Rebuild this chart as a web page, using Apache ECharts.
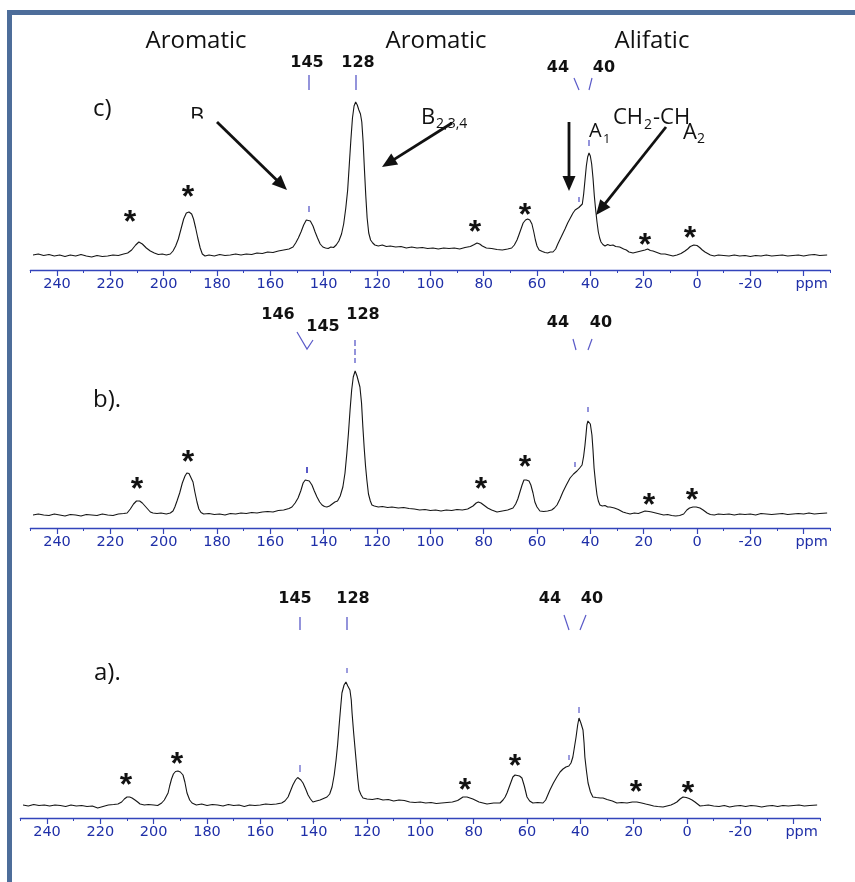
<!DOCTYPE html>
<html><head><meta charset="utf-8">
<script src="https://cdn.jsdelivr.net/npm/echarts@6/dist/echarts.min.js"></script>
<style>html,body{margin:0;padding:0;background:#fff}#c{width:855px;height:882px}</style>
</head><body><div id="c"></div>
<script>
// ---- data: [ppm, intensity (a.u.)] ----
const tickValues = [240,220,200,180,160,140,120,100,80,60,40,20,0,-20,-40];
const specC = [[249,15],[247,16],[245,14.5],[243,15.5],[241,14],[239,15],[237,13.5],[235,15],[233,14],[231,15.5],[229,14],[227,13],[225,14.5],[223,13.5],[221,14],[219,15],[217,14.5],[215,16],[213.5,17],[212,20],[210.5,25],[209.3,28],[208,26],[206.5,22],[205,19],[203.5,17],[202,15.5],[200.5,16],[199,15],[197.5,16],[196.5,19],[195.5,24],[194.5,31],[193.5,41],[192.5,51],[191.5,57],[190.5,58],[189.5,56],[188.8,51],[188,42],[187.2,32],[186.3,22],[185.5,16],[184.5,14],[183,15],[181,14],[179,15.5],[177,14.5],[175,15],[173,16],[171,15],[169,16],[167,15.5],[165,17],[163,16.5],[161,18],[159,17.5],[157,19],[155,20],[153,21],[151.5,23],[150.5,27],[149.5,32],[148.5,38],[147.5,45],[146.5,50],[145.8,51],[145,49],[144,44],[143.2,38],[142.3,32],[141.3,26],[140.3,23],[139.3,22],[138.3,21.5],[137.3,23],[136.3,22.5],[135.3,25],[134.3,29],[133.3,36],[132.5,46],[131.7,62],[131,80],[130.4,105],[129.8,130],[129.2,152],[128.6,164],[128,168],[127.4,165],[126.8,160],[126.2,156],[125.7,148],[125.2,128],[124.7,100],[124.2,74],[123.7,52],[123.1,37],[122.4,30],[121.6,27],[120.8,25],[119.5,24],[118,25],[116.5,23.5],[115,24],[113,23],[111,23.5],[109,22],[107,23],[105,22],[103,22.5],[101,21.5],[99,22],[97,21],[95,22],[93,21.5],[91,22],[89,21],[87,22.5],[85,23.5],[83.5,25.5],[82.5,27],[81.5,26],[80.5,24],[79,22],[77,21.5],[75,20.5],[73,20],[71,21],[69.5,22],[68.5,25],[67.5,30],[66.8,35],[66,41],[65.2,47],[64.3,50],[63.5,51],[62.7,50],[61.9,46],[61.2,38],[60.6,30],[60,24],[59.2,20],[58,18.5],[57,17.5],[56,17],[55,18],[54,18],[53,21],[52.2,26],[51.3,31],[50.4,36],[49.5,41],[48.5,47],[47.5,52],[46.5,57],[45.7,60],[45,61],[44.3,62.5],[43.6,64],[43,66],[42.5,76],[42,90],[41.5,104],[41,113],[40.5,117],[40,114],[39.5,106],[39,92],[38.5,74],[38,60],[37.5,48],[37,38],[36.5,32],[36,28],[35.3,25.5],[34.5,24],[33.5,25.5],[32.6,24.5],[31.5,25],[30.5,23.5],[29,23],[27.5,21],[26.5,20],[25.5,18],[24,17],[22.5,18],[21,19],[19.5,20],[18.5,21],[17.5,19.5],[16.5,19],[15,17.5],[13.5,16],[12,16],[10.5,15],[9,14],[7.5,15],[6,16.5],[4.5,19],[3.5,21],[2.5,23.5],[1.2,25],[0,24.5],[-1,22.5],[-2,20],[-3,18],[-4,16.5],[-5,15],[-6.5,14],[-8,15],[-10,14.5],[-12,14],[-14,15],[-16,14],[-18,14.5],[-20,13.5],[-22,14.5],[-24,14],[-26,15],[-28,14],[-30,14.5],[-32,15],[-34,14],[-36,14.5],[-38,15],[-40,14],[-42,15],[-44,15.5],[-46,14.5],[-48.8,15]];
const specB = [[249,13],[247,14],[245,13],[243,12.5],[241,14],[239,13],[237,12],[235,13.5],[233,13],[231,12],[229,13.5],[227,13],[225,12.5],[223,14],[221,13],[219,12.5],[217,14],[215,14.5],[213.7,15],[212.5,19],[211.3,24],[210.2,27],[209,27],[208,25],[207,22],[206,19],[205,16],[204,15],[202.5,14.5],[201,15],[199,14],[197.5,15],[196.5,17],[195.8,21],[195,27],[194,35],[193,45],[192,52],[191.3,55],[190.5,54.5],[189.8,53],[189,46],[188.3,36],[187.5,26],[186.8,19],[186,15.5],[185,14],[183,14.5],[181,13.5],[179,14],[177,13],[175,14.5],[173,14],[171,15],[169,14.5],[167,15.5],[165,15],[163,16],[161,16.5],[159,16],[157,17.5],[155,18],[153,19.5],[151.9,21],[150.7,25],[149.6,30],[148.6,37],[147.7,45],[146.9,48],[146.2,49],[145.4,47],[144.4,43],[143.5,37],[142.5,31],[141.5,26],[140.6,23],[139.7,21.5],[138.8,21],[137.8,22],[136.8,24],[135.8,26],[134.8,27],[133.8,32],[132.8,41],[132,55],[131.3,75],[130.7,95],[130.1,118],[129.5,138],[128.9,151],[128.2,157],[127.5,152],[126.9,146],[126.4,141],[125.8,125],[125.3,101],[124.8,80],[124.3,62],[123.8,48],[123.2,34],[122.5,27],[121.9,23],[121,22],[119.5,21],[118,21.5],[116,20.5],[114.4,21],[112,20],[110,20.5],[108,19.5],[106,19],[104,18],[102,18.5],[100,17.5],[98,18],[96,17],[94,18],[92,17.5],[90,18.5],[88,18],[86,19],[84,22],[82.8,25],[82,26],[81,25],[80,23],[78.5,20],[77,18],[75,16],[73,17],[71,18],[69,20],[68,24],[67.2,29],[66.4,36],[65.6,43],[64.9,48],[64,48],[63,47],[62.3,43],[61.5,35],[60.8,26],[60,21],[58.9,17],[57.5,16.5],[56,17],[54.5,18],[53.5,20],[52.5,23],[51.4,29],[50.3,36],[49,43],[47.6,50],[46.3,54],[45,57],[44,60],[43.1,63],[42.5,72],[42,83],[41.6,94],[41.3,103],[40.9,107],[40.5,109],[40,104],[39.4,93],[39,78],[38.6,60],[38,44],[37.5,33],[37,27],[36.4,23],[35.5,22],[34.5,22.5],[33.5,21],[32.6,21],[31,20],[29.5,18.5],[27.8,16],[26.5,15],[25.1,14],[23.5,15],[22,14.5],[20.5,16],[19.5,17],[18.8,17],[18,16.5],[17,16],[15.5,15],[14,14],[12.5,13],[11,13.5],[9.5,12.5],[8,12],[6.5,12.5],[5,14],[3.8,18],[2.8,20],[1.5,21],[0.3,21],[-1.1,20],[-2.3,18],[-3.8,15],[-5,13.5],[-6.5,13],[-8,14],[-10,13.5],[-12,14],[-14,13],[-16,14],[-18,13.5],[-20,14],[-22,13],[-24,14.5],[-26,14],[-28,13.5],[-30,14],[-32,14.5],[-34,13.5],[-36,14],[-38,14.5],[-40,14],[-42,15],[-44,14],[-46,14.5],[-48.8,15]];
const specA = [[249,13],[247,12],[245,13.5],[243,12.5],[241,13],[239,12],[237,13],[235,12.5],[233,11.5],[231,13],[229,12],[227,12.5],[225,11.5],[223,12],[221,10],[219,11.5],[217,13],[215,13.5],[213.4,14],[212,16],[211,19],[210,21],[209,21],[208.1,20],[207,18],[206,16],[205.1,14],[203.5,13],[202,13.5],[200,13],[198.5,12.5],[197,15],[196,18],[195.2,22],[194.6,25],[194,32],[193.3,39],[192.6,44],[191.8,46.5],[190.9,47],[190,46],[189,43],[188.3,36],[187.5,25],[186.5,18],[185.6,15],[184,13],[182,14],[180,12.5],[178,13.5],[176,13],[174,12],[172,13.5],[170,12.5],[168,13],[166,11.5],[164,13],[162,12.5],[160,13],[158,14],[156,13.5],[154,14],[152,15],[150.8,17],[149.6,21],[148.7,27],[147.8,33],[146.8,38],[146,40.5],[145.5,41],[144.8,38],[144,35],[143,29],[142.1,23],[141.2,19],[140.3,16],[139,17],[137.6,18],[136.3,19.5],[135,21],[134,24],[133.1,31],[132.3,43],[131.6,58],[131,74],[130.5,91],[129.9,110],[129.4,125],[128.6,133],[127.9,136],[127.2,132],[126.4,128],[125.9,118],[125.6,105],[125,85],[124.5,70],[124.1,58],[123.5,40],[123,28],[122.2,23],[121.5,20],[120,19],[118,18.5],[116,19.5],[114,18],[112,18.5],[110,17],[108,18],[106,17.5],[104,16],[102,15.5],[100,16],[98,15],[96,15.5],[94,14.5],[92,15],[90,15.5],[88,16],[86,17.5],[84,21],[82.5,21],[80.3,19],[78,16],[75,14],[72.5,15],[70.1,15],[69,18],[68.2,21],[67.5,25],[66.4,33],[65.3,41],[64.5,43],[63.8,43],[62.8,42],[61.9,40],[61,32],[60,21],[59,17],[57.8,15],[56,15.5],[54,15],[53,18],[52.2,23],[51.4,28],[50.1,35],[48.8,41],[47.6,46],[46.5,49],[45.4,51],[44.3,52],[43.5,55],[42.8,61],[42.2,71],[41.6,81],[41,93],[40.5,100],[39.8,95],[39,88],[38.6,75],[38.3,61],[37.7,47],[37.1,35],[36.2,26],[35.3,21],[34,20.5],[32.5,20],[31.5,20],[30,18.5],[28,17],[26.3,15],[24.5,15.5],[22.5,15],[20.5,16],[18.8,16],[17,15],[15.5,14],[13.9,13],[12.5,12],[11,11.5],[9,11],[7.5,12],[6,13],[4.8,14.5],[3.8,16],[2.6,19],[1.5,21],[0.3,20.5],[-0.8,19.5],[-1.9,18],[-3,16],[-4.9,12],[-6.5,12.5],[-8,13],[-10,12],[-12,11.5],[-14,12.5],[-16,11],[-18,12],[-20,12.5],[-22,11.5],[-24,12.5],[-26,12],[-28,11],[-30,12],[-32,12.5],[-34,11.5],[-36,12.5],[-38,12],[-40,12.5],[-42,13],[-44,12],[-46,12.5],[-48.8,13]];

// ---- layout ----
const K = 8/3; // px per ppm
const panels = [
  {data: specC, axisY: 270, x240: 57},
  {data: specB, axisY: 528, x240: 57},
  {data: specA, axisY: 818, x240: 47}
];
const H = 200;
const AXIS_BLUE = '#3344bb', LABEL_BLUE = '#1f2fa8', MARK_BLUE = '#5a5ac8';

const grid = [], xAxis = [], yAxis = [], series = [];
panels.forEach((p, i) => {
  grid.push({left: p.x240 - 10*K, width: 300*K, top: p.axisY - H, height: H, containLabel: false, outerBoundsMode: 'none'});
  grid.push({left: p.x240, width: 280*K, top: p.axisY - H, height: H, containLabel: false, outerBoundsMode: 'none'});
  xAxis.push({gridIndex: 2*i, type: 'value', min: -50, max: 250, interval: 10, inverse: true,
    axisLine: {lineStyle: {color: AXIS_BLUE, width: 1.3}}, axisTick: {length: 3, lineStyle: {color: AXIS_BLUE}},
    axisLabel: {show: false}, splitLine: {show: false}});
  xAxis.push({gridIndex: 2*i+1, type: 'value', min: -40, max: 240, interval: 20, inverse: true,
    axisLine: {show: false}, axisTick: {length: 6, lineStyle: {color: AXIS_BLUE, width: 1.2}},
    axisLabel: {show: true, showMinLabel: true, showMaxLabel: true, margin: 7, color: LABEL_BLUE,
      fontFamily: 'DejaVu Sans', fontSize: 14.5,
      formatter: v => (tickValues.indexOf(v) === tickValues.length - 1) ? '{p|ppm}' : String(v),
      rich: {p: {color: LABEL_BLUE, fontFamily: 'DejaVu Sans', fontSize: 14.5, padding: [0,0,0,16]}}},
    splitLine: {show: false}});
  yAxis.push({gridIndex: 2*i, type: 'value', min: 0, max: H, show: false});
  yAxis.push({gridIndex: 2*i+1, type: 'value', min: 0, max: H, show: false});
  series.push({type: 'line', xAxisIndex: 2*i, yAxisIndex: 2*i, data: p.data, showSymbol: false, symbol: 'none',
    clip: false, lineStyle: {color: '#151515', width: 1.1}, animation: false, silent: true});
});

// ---- annotations ----
const G = [];
const SANS = '"Open Sans", sans-serif';
function txt(s, x, y, size, o) {
  o = o || {};
  G.push({type: 'text', x: x, y: y, z: 10, style: {text: s, fill: o.fill || '#111', fontSize: size,
    fontFamily: o.font || SANS, fontWeight: o.bold ? 'bold' : 'normal',
    align: o.align || 'center', verticalAlign: o.va || 'middle'}});
}
function seg(x1, y1, x2, y2, color, w, dash) {
  G.push({type: 'line', z: 10, shape: {x1, y1, x2, y2}, style: {stroke: color, lineWidth: w, lineDash: dash || null}});
}
function poly(pts, color, w) {
  G.push({type: 'polyline', z: 10, shape: {points: pts}, style: {stroke: color, lineWidth: w, fill: null}});
}
function arrow(x1, y1, x2, y2) {
  const L = 15, W = 6.5;
  const dx = x2 - x1, dy = y2 - y1, len = Math.hypot(dx, dy), ux = dx/len, uy = dy/len;
  const bx = x2 - ux*L, by = y2 - uy*L;
  seg(x1, y1, bx + ux*2, by + uy*2, '#111', 2.8);
  G.push({type: 'polygon', z: 10, shape: {points: [[x2, y2], [bx - uy*W, by + ux*W], [bx + uy*W, by - ux*W]]}, style: {fill: '#111'}});
}
function star(x, y) { txt('*', x, y + 8, 32, {bold: true, font: '"Liberation Sans", Arial, sans-serif'}); }
const PL = {bold: true, font: '"DejaVu Sans", Verdana, sans-serif'};
const PS = 16;

// frame
G.push({type: 'rect', z: 1, shape: {x: 9.5, y: 12.5, width: 900, height: 900}, style: {fill: null, stroke: '#4d6d9a', lineWidth: 5}});

// top headings
txt('Aromatic', 196, 41, 24);
txt('Aromatic', 436, 41, 24);
txt('Alifatic', 652, 41, 24);

// panel c
txt('c)', 93, 109, 24, {align: 'left'});
txt('145', 307, 63, PS, PL); txt('128', 358, 63, PS, PL);
txt('44', 558, 68, PS, PL); txt('40', 604, 68, PS, PL);
seg(309, 75, 309, 90, MARK_BLUE, 1.3); seg(356, 75, 356, 90, MARK_BLUE, 1.3);
seg(574, 78, 579, 90, MARK_BLUE, 1.2); seg(592, 78, 589, 90, MARK_BLUE, 1.2);
seg(309, 206, 309, 212, MARK_BLUE, 1.3); seg(589, 140, 589, 146, MARK_BLUE, 1.3); seg(579, 197, 579, 202, MARK_BLUE, 1.3);
txt('B', 190, 117, 22, {align: 'left'});
G.push({type: 'rect', z: 11, shape: {x: 186, y: 118.5, width: 22, height: 14}, style: {fill: '#fff'}});
txt('B', 421, 117.5, 22, {align: 'left'}); txt('2,3,4', 436, 124, 14, {align: 'left'});
txt('A', 589, 131, 20, {align: 'left'}); txt('1', 603, 139, 13, {align: 'left'});
txt('CH', 613, 117.5, 22, {align: 'left'}); txt('2', 644, 125, 14, {align: 'left'}); txt('-CH', 653, 117.5, 22, {align: 'left'});
txt('A', 683, 132.5, 22, {align: 'left'}); txt('2', 697, 139, 14, {align: 'left'});
arrow(217, 122, 287, 190);
arrow(452, 123, 382, 167);
arrow(569, 122, 569, 191);
arrow(666, 127, 596, 215);
[[130,215],[188,190],[475,225],[525,208],[645,238],[690,231]].forEach(p => star(p[0], p[1]));

// panel b
txt('b).', 93, 400, 24, {align: 'left'});
txt('146', 278, 315, PS, PL); txt('145', 323, 327, PS, PL); txt('128', 363, 315, PS, PL);
txt('44', 558, 323, PS, PL); txt('40', 601, 323, PS, PL);
poly([[297, 332], [307, 349], [313, 340]], MARK_BLUE, 1.2);
seg(355, 340, 355, 363, MARK_BLUE, 1.3, [6, 3]);
seg(573, 339, 576, 350, MARK_BLUE, 1.2); seg(592, 339, 588, 350, MARK_BLUE, 1.2);
seg(307, 467, 307, 473, MARK_BLUE, 2); seg(588, 407, 588, 412, MARK_BLUE, 1.3); seg(575, 462, 575, 467, MARK_BLUE, 1.3);
[[137,482],[188,455],[481,482],[525,460],[649,498],[692,493]].forEach(p => star(p[0], p[1]));

// panel a
txt('a).', 94, 673, 24, {align: 'left'});
txt('145', 295, 599, PS, PL); txt('128', 353, 599, PS, PL);
txt('44', 550, 599, PS, PL); txt('40', 592, 599, PS, PL);
seg(300, 617, 300, 630, MARK_BLUE, 1.3); seg(347, 617, 347, 630, MARK_BLUE, 1.3);
seg(564, 615, 569, 630, MARK_BLUE, 1.2); seg(586, 615, 580, 630, MARK_BLUE, 1.2);
seg(347, 668, 347, 673, MARK_BLUE, 1.2); seg(300, 765, 300, 772, MARK_BLUE, 1.2);
seg(579, 707, 579, 713, MARK_BLUE, 1.2); seg(569, 755, 569, 760, MARK_BLUE, 1.2);
[[126,778],[177,757],[465,783],[515,759],[636,785],[688,786]].forEach(p => star(p[0], p[1]));

const chart = echarts.init(document.getElementById('c'), null, {renderer: 'canvas'});
chart.setOption({backgroundColor: '#fff', animation: false, grid, xAxis, yAxis, series, graphic: G});
</script></body></html>
